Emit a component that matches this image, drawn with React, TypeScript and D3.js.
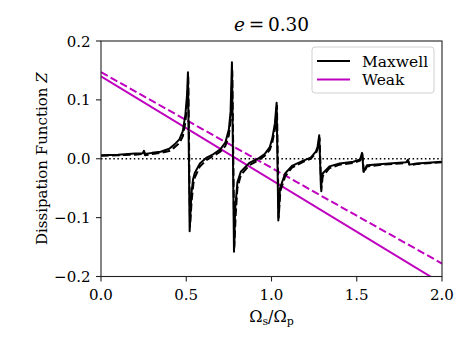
import React from "react";
import * as d3 from "d3";

// Maxwell model, solid and dashed variants: [Omega_s/Omega_p, Z]
const maxwellSolid: [number, number][] = [
  [0.0, 0.006], [0.1, 0.007], [0.2, 0.009], [0.245, 0.0095], [0.252, 0.0135], [0.258, 0.008],
  [0.3, 0.01], [0.35, 0.012], [0.4, 0.017], [0.43, 0.024], [0.46, 0.033], [0.48, 0.047],
  [0.495, 0.075], [0.505, 0.11], [0.51, 0.147], [0.52, -0.123], [0.53, -0.06], [0.54, -0.035],
  [0.55, -0.024], [0.58, -0.008], [0.62, 0.002], [0.66, 0.008], [0.7, 0.016], [0.73, 0.028],
  [0.75, 0.05], [0.76, 0.08], [0.768, 0.164], [0.78, -0.158], [0.787, -0.085], [0.8, -0.04],
  [0.82, -0.022], [0.87, -0.007], [0.92, 0.0], [0.96, 0.008], [0.99, 0.02], [1.005, 0.035],
  [1.02, 0.06], [1.03, 0.095], [1.04, -0.105], [1.05, -0.05], [1.08, -0.025], [1.12, -0.012],
  [1.18, -0.004], [1.23, 0.002], [1.26, 0.012], [1.27, 0.02], [1.28, 0.04], [1.29, -0.05],
  [1.3, -0.025], [1.34, -0.013], [1.4, -0.008], [1.48, -0.005], [1.52, -0.001], [1.531, 0.01],
  [1.54, -0.022], [1.56, -0.011], [1.65, -0.009], [1.75, -0.007], [1.79, -0.006], [1.8, -0.002],
  [1.81, -0.01], [1.85, -0.008], [2.0, -0.005],
];

const maxwellDashed: [number, number][] = [
  [0.0, 0.005], [0.1, 0.006], [0.2, 0.007], [0.245, 0.008], [0.252, 0.012], [0.258, 0.006],
  [0.3, 0.008], [0.35, 0.01], [0.4, 0.013], [0.43, 0.019], [0.46, 0.027], [0.48, 0.038],
  [0.495, 0.062], [0.505, 0.095], [0.512, 0.14], [0.522, -0.115], [0.532, -0.07], [0.542, -0.042],
  [0.55, -0.032], [0.58, -0.013], [0.62, -0.002], [0.66, 0.005], [0.7, 0.012], [0.73, 0.022],
  [0.75, 0.04], [0.762, 0.07], [0.77, 0.15], [0.782, -0.15], [0.79, -0.095], [0.8, -0.05],
  [0.82, -0.028], [0.87, -0.011], [0.92, -0.003], [0.96, 0.005], [0.99, 0.015], [1.005, 0.028],
  [1.02, 0.05], [1.032, 0.09], [1.042, -0.1], [1.052, -0.055], [1.08, -0.03], [1.12, -0.015],
  [1.18, -0.006], [1.23, 0.0], [1.26, 0.009], [1.27, 0.016], [1.282, 0.035], [1.292, -0.055],
  [1.3, -0.03], [1.34, -0.016], [1.4, -0.01], [1.48, -0.007], [1.52, -0.003], [1.533, 0.008],
  [1.542, -0.024], [1.56, -0.013], [1.65, -0.01], [1.75, -0.008], [1.79, -0.007], [1.8, -0.003],
  [1.81, -0.011], [1.85, -0.009], [2.0, -0.006],
];

// weak friction model, straight lines
const weakSolid: [number, number][] = [[0, 0.14], [2, -0.212]];
const weakDashed: [number, number][] = [[0, 0.147], [2, -0.178]];
const zeroLine: [number, number][] = [[0, 0], [2, 0]];

const xTicks = [0, 0.5, 1, 1.5, 2];
const yTicks = [-0.2, -0.1, 0, 0.1, 0.2];
const legendItems = [
  { label: "Maxwell", color: "#000000" },
  { label: "Weak", color: "#bf00bf" },
];

const W = 471;
const H = 347;
const m = { left: 101, right: 442, top: 41, bottom: 276.5 };
const font = "'DejaVu Serif', serif";

export default function App() {
  const x = d3.scaleLinear().domain([0, 2]).range([m.left, m.right]);
  const y = d3.scaleLinear().domain([-0.2, 0.2]).range([m.bottom, m.top]);
  const line = d3
    .line<[number, number]>()
    .x((d) => x(d[0]))
    .y((d) => y(d[1]));
  const fmt = (v: number) => d3.format(".1f")(v).replace("-", "\u2212");

  return (
    <svg width={W} height={H} style={{ position: "absolute", left: 0, top: 0 }} fontFamily={font}>
      <defs>
        <clipPath id="plot">
          <rect x={m.left} y={m.top} width={m.right - m.left} height={m.bottom - m.top} />
        </clipPath>
      </defs>
      <rect width={W} height={H} fill="#fff" />
      <g clipPath="url(#plot)" fill="none">
        <path d={line(zeroLine)!} stroke="#000" strokeWidth={1.5} strokeDasharray="1.5,2.6" />
        <path d={line(weakDashed)!} stroke="#bf00bf" strokeWidth={2} strokeDasharray="7.7,3.3" />
        <path d={line(weakSolid)!} stroke="#bf00bf" strokeWidth={2} />
        <path d={line(maxwellDashed)!} stroke="#000" strokeWidth={2} strokeDasharray="7.7,3.3" strokeLinejoin="round" />
        <path d={line(maxwellSolid)!} stroke="#000" strokeWidth={2} strokeLinejoin="round" />
      </g>
      <rect
        x={m.left}
        y={m.top}
        width={m.right - m.left}
        height={m.bottom - m.top}
        fill="none"
        stroke="#222"
        strokeWidth={1.1}
      />
      {xTicks.map((t) => (
        <g key={"x" + t}>
          <line x1={x(t)} x2={x(t)} y1={m.bottom} y2={m.bottom + 5} stroke="#222" strokeWidth={1.1} />
          <text x={x(t)} y={m.bottom + 23.5} textAnchor="middle" fontSize={15}>
            {fmt(t)}
          </text>
        </g>
      ))}
      {yTicks.map((t) => (
        <g key={"y" + t}>
          <line x1={m.left - 5} x2={m.left} y1={y(t)} y2={y(t)} stroke="#222" strokeWidth={1.1} />
          <text x={m.left - 10.5} y={y(t) + 5.5} textAnchor="end" fontSize={15}>
            {fmt(t)}
          </text>
        </g>
      ))}
      <text x={(m.left + m.right) / 2} y={31} textAnchor="middle" fontSize={18.5}>
        <tspan fontStyle="italic">e</tspan>
        <tspan dx={4}>=</tspan>
        <tspan dx={3.5}>0.30</tspan>
      </text>
      <text x={(m.left + m.right) / 2} y={322} textAnchor="middle" fontSize={16}>
        <tspan>Ω</tspan>
        <tspan fontSize={11} dy={3}>s</tspan>
        <tspan dy={-3}>/Ω</tspan>
        <tspan fontSize={11} dy={3}>p</tspan>
      </text>
      <text transform={`translate(47,${(m.top + m.bottom) / 2}) rotate(-90)`} textAnchor="middle" fontSize={15}>
        <tspan>Dissipation Function </tspan>
        <tspan fontStyle="italic">Z</tspan>
      </text>
      <g>
        <rect x={312} y={47} width={122} height={46} rx={3} fill="#fff" fillOpacity={0.8} stroke="#d0d0d0" strokeWidth={1} />
        {legendItems.map((d, i) => (
          <g key={d.label}>
            <line x1={317} x2={350} y1={61 + i * 18.5} y2={61 + i * 18.5} stroke={d.color} strokeWidth={2} />
            <text x={362} y={66.5 + i * 18.5} fontSize={15.5}>
              {d.label}
            </text>
          </g>
        ))}
      </g>
    </svg>
  );
}
